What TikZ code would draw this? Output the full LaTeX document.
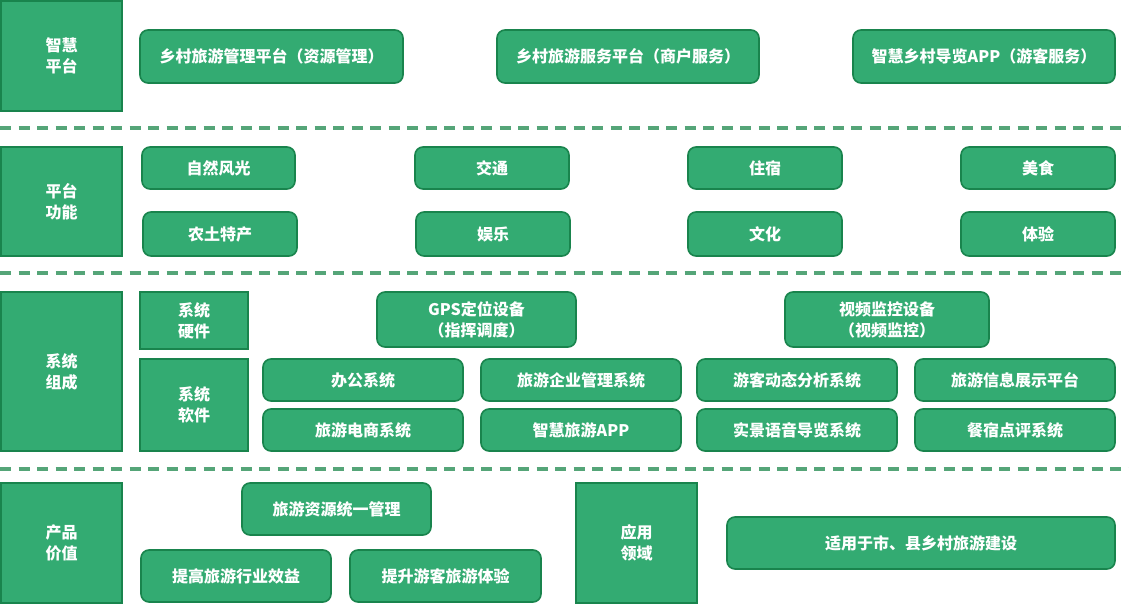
\documentclass[tikz,border=0pt]{standalone}
\usepackage{fontspec}
\setmainfont{Noto Sans CJK SC}
\definecolor{gfill}{HTML}{33AB72}
\definecolor{gline}{HTML}{19844D}
\definecolor{gdash}{HTML}{55A578}
\newcommand{\mkbox}[7]{%
  \node[#7, minimum width={(#4-#2)*1pt}, minimum height={(#5-#3)*1pt}] (#1) at ({(#2+#4)/2},{(#3+#5)/2}) {#6};}
\tikzset{
  base/.style={draw=gline, fill=gfill, line width=1.6pt, inner sep=0pt, text=white,
    font=\fontsize{16}{21}\selectfont\bfseries, align=center},
  lab/.style={base},
  item/.style={base, rounded corners=8pt},
  sepline/.style={draw=gdash, line width=4pt, dash pattern=on 11pt off 7.5pt}
}
\begin{document}
\begin{tikzpicture}[x=1pt,y=-1pt]
\useasboundingbox (0,0) rectangle (1129,604);
% row 1
\mkbox{l1}{1}{1}{122}{111}{智慧\\平台}{lab}
\mkbox{a1}{140}{30}{403}{83}{乡村旅游管理平台（资源管理）}{item}
\mkbox{a2}{497}{30}{759}{83}{乡村旅游服务平台（商户服务）}{item}
\mkbox{a3}{853}{30}{1115}{83}{智慧乡村导览APP（游客服务）}{item}
\coordinate (s1a) at (0,128); \coordinate (s1b) at (1129,128);
\draw[sepline] (s1a) -- (s1b);
% row 2
\mkbox{l2}{1}{147}{122}{256}{平台\\功能}{lab}
\mkbox{b1}{142}{147}{295}{189}{自然风光}{item}
\mkbox{b2}{415}{147}{569}{189}{交通}{item}
\mkbox{b3}{688}{147}{842}{189}{住宿}{item}
\mkbox{b4}{961}{147}{1115}{189}{美食}{item}
\mkbox{b5}{143}{212}{297}{256}{农土特产}{item}
\mkbox{b6}{416}{212}{570}{256}{娱乐}{item}
\mkbox{b7}{688}{212}{842}{256}{文化}{item}
\mkbox{b8}{961}{212}{1115}{256}{体验}{item}
\coordinate (s2a) at (0,273); \coordinate (s2b) at (1129,273);
\draw[sepline] (s2a) -- (s2b);
% row 3
\mkbox{l3}{1}{292}{122}{451}{系统\\组成}{lab}
\mkbox{hw}{140}{292}{248}{349}{系统\\硬件}{lab}
\mkbox{sw}{140}{359}{248}{451}{系统\\软件}{lab}
\mkbox{c1}{377}{292}{576}{347}{GPS定位设备\\（指挥调度）}{item}
\mkbox{c2}{785}{292}{989}{347}{视频监控设备\\（视频监控）}{item}
\mkbox{d1}{263}{359}{463}{401}{办公系统}{item}
\mkbox{d2}{481}{359}{681}{401}{旅游企业管理系统}{item}
\mkbox{d3}{697}{359}{897}{401}{游客动态分析系统}{item}
\mkbox{d4}{915}{359}{1115}{401}{旅游信息展示平台}{item}
\mkbox{d5}{263}{409}{463}{451}{旅游电商系统}{item}
\mkbox{d6}{481}{409}{681}{451}{智慧旅游APP}{item}
\mkbox{d7}{697}{409}{897}{451}{实景语音导览系统}{item}
\mkbox{d8}{915}{409}{1115}{451}{餐宿点评系统}{item}
\coordinate (s3a) at (0,469); \coordinate (s3b) at (1129,469);
\draw[sepline] (s3a) -- (s3b);
% row 4
\mkbox{l4}{1}{483}{122}{603}{产品\\价值}{lab}
\mkbox{e1}{242}{483}{431}{535}{旅游资源统一管理}{item}
\mkbox{e2}{141}{550}{331}{602}{提高旅游行业效益}{item}
\mkbox{e3}{350}{550}{541}{602}{提升游客旅游体验}{item}
\mkbox{l5}{576}{483}{697}{603}{应用\\领域}{lab}
\mkbox{f1}{727}{517}{1115}{569}{适用于市、县乡村旅游建设}{item}
\end{tikzpicture}
\end{document}
